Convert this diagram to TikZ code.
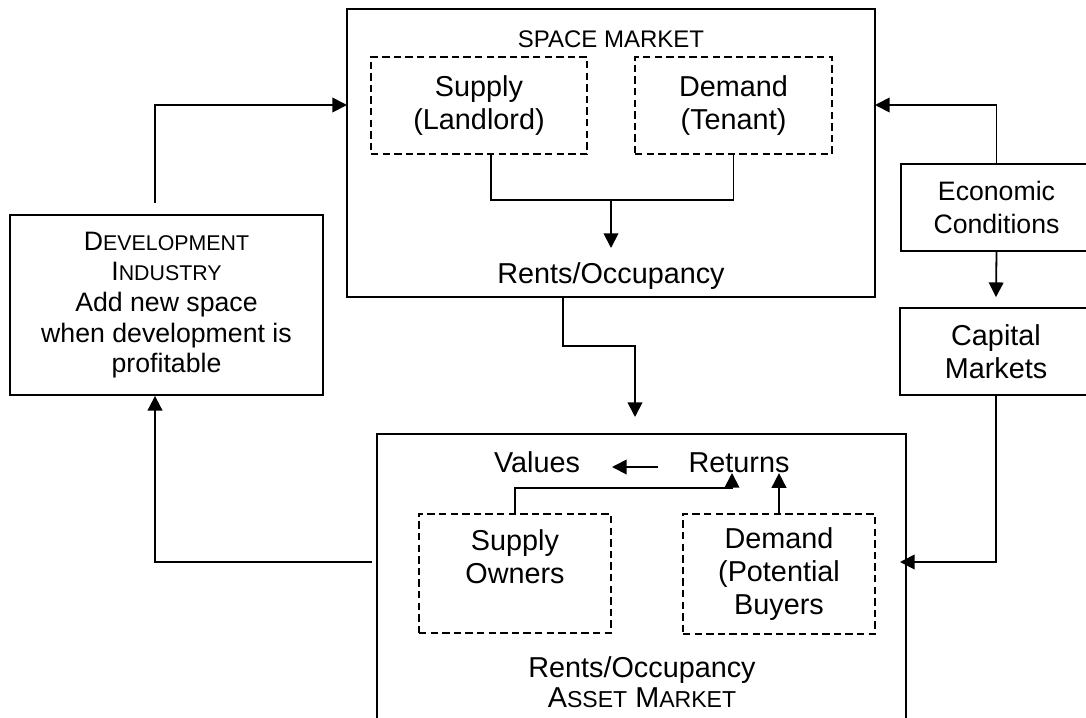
\documentclass[tikz,border=0pt]{standalone}
\usepackage{fontspec}
\setmainfont{Liberation Sans}
\usetikzlibrary{arrows.meta, calc}

% first letter full size, the rest as smaller capitals
\newcommand{\capsmall}[2]{#1\scalebox{0.8}{#2}}

\tikzset{
    box/.style 2 args={draw, rectangle, inner sep=0pt, align=center,
        minimum width=#1*0.75pt, minimum height=#2*0.75pt}
}

\begin{document}
\begin{tikzpicture}[
    x=0.75pt, y=-0.75pt,
    line width=1.35pt,
    >={Triangle[length=11pt, width=11pt]},
    dashline/.style={dash pattern=on 5.5pt off 3.2pt},
    label/.style={inner sep=0pt, anchor=base},
    bigtext/.style={font=\fontsize{21.6}{24.75}\selectfont},
    smalltext/.style={font=\fontsize{20}{23}\selectfont}
]

    \useasboundingbox (0,0) rectangle (1086,718);
    \clip (0,0) rectangle (1086,718);

    % Main boxes
    \node[box={528}{288}] (space) at (611,153) {};
    \node[box={529}{306}] (asset) at (641.5,587) {};
    \node[box={313}{180}, smalltext] (dev) at (166.5,305)
        {\capsmall{D}{EVELOPMENT}\\ \capsmall{I}{NDUSTRY}\\ Add new space\\
         when development is\\ profitable};
    \node[box={191}{87}, font=\fontsize{20}{24.3}\selectfont] (econ) at (996.5,207.5)
        {Economic\\Conditions};
    \node[box={192}{87}, bigtext] (cap) at (996,351.5) {Capital\\Markets};

    % Space market
    \node[label, font=\fontsize{18}{20}\selectfont] (spacelabel) at (611,47) {SPACE MARKET};
    \node[box={216}{97}, dashline, bigtext] (supply) at (479,105.5) {Supply\\(Landlord)};
    \node[box={197}{97}, dashline, bigtext] (demand) at (733.5,105.5) {Demand\\(Tenant)};
    \node[label, bigtext] (rents) at (611,283) {Rents/Occupancy};

    % Asset market
    \node[label, bigtext] (values) at (537,472) {Values};
    \node[label, bigtext] (returns) at (739,472) {Returns};
    \node[box={192}{119}, dashline, bigtext] (owners) at (515,573.5) {Supply\\Owners\\~};
    \node[box={192}{120}, dashline, bigtext] (buyers) at (779,574)
        {Demand\\(Potential\\Buyers};
    \node[label, bigtext] (rentsb) at (642,677) {Rents/Occupancy};
    \node[label, bigtext] (assetlabel) at (642,707) {\capsmall{A}{SSET} \capsmall{M}{ARKET}};

    % Connector ends
    \coordinate (devout)   at (155,203);
    \coordinate (spacein)  at (347,105);
    \coordinate (assetout) at (372,562);
    \coordinate (rentsout) at (563,297);
    \coordinate (assetin)  at (635,417);
    \coordinate (econin)   at (875,105);
    \coordinate (capin)    at (900,562);
    \coordinate (merge)    at (611,200);
    \coordinate (rentsin)  at (611,248);
    \coordinate (retstart) at (658,467);
    \coordinate (valend)   at (612,467);
    \coordinate (retin)    at (732,473);

    % Outer loop
    \draw[->] (devout) |- (spacein);
    \draw[->] (assetout) -| (devout |- dev.south);
    \draw[->] (rentsout) -- ++(0,49) -| (assetin);
    \draw[->] (econ.north) |- (econin);
    \draw[->] (econ.south) -- ($(cap.north)+(0,-10)$);
    \draw[->] (cap.south) |- (capin);

    % Inside the space market
    \draw ($(supply.south)+(12,0)$) |- (demand.south |- merge) -- (demand.south);
    \draw[->] (merge) -- (rentsin);

    % Inside the asset market
    \draw[->] (retstart) -- (valend);
    \draw[->] (owners.north) -- ++(0,-25) -| (retin);
    \draw[->] (buyers.north) -- ++(0,-40);

\end{tikzpicture}
\end{document}
